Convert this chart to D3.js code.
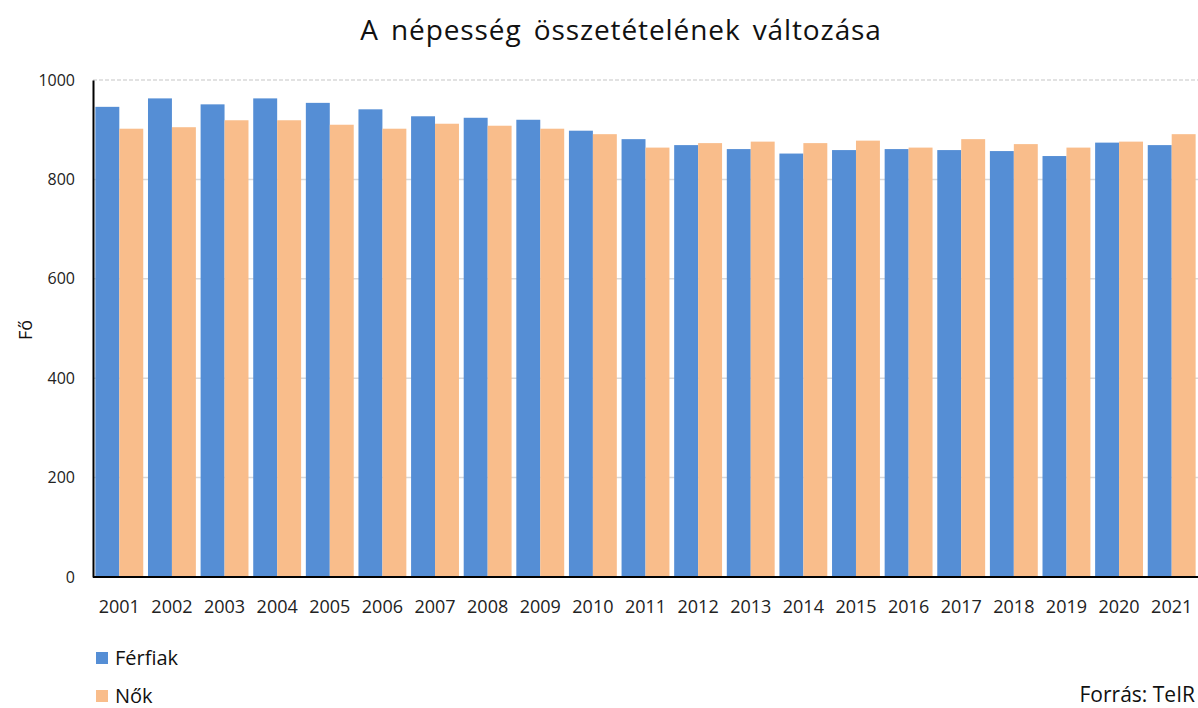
<!DOCTYPE html>
<html><head><meta charset="utf-8">
<script src="https://cdn.jsdelivr.net/npm/d3@7"></script>
<style>body{margin:0;background:#fff;} text{font-family:"Open Sans",sans-serif;}</style>
</head><body>
<svg id="c" width="1198" height="708"></svg>
<script>
const years = ["2001","2002","2003","2004","2005","2006","2007","2008","2009","2010","2011","2012","2013","2014","2015","2016","2017","2018","2019","2020","2021"];
const ferfiak = [946,963,951,963,954,941,927,924,920,898,881,869,861,852,859,861,859,857,847,874,869];
const nok = [902,905,919,919,910,902,912,908,902,891,864,873,876,873,878,864,881,871,864,876,891];
const yTicks = [0,200,400,600,800,1000];
const seriesNames = ["Férfiak","Nők"];
const colors = ["#558ed5","#f9bd8b"];

const svg = d3.select("#c");
const m = {left:93, right:0, top:80, bottom:130};
const W = 1198, H = 708;
const x = d3.scaleBand().domain(years).range([m.left, W - m.right]).paddingInner(0.09).paddingOuter(0.045);
const y = d3.scaleLinear().domain([0,1000]).range([577, 80]);
const xs = d3.scaleBand().domain([0,1]).range([0, x.bandwidth()]);

// gridlines
svg.append("g").selectAll("line").data(yTicks.filter(d=>d>0)).join("line")
  .attr("x1", m.left).attr("x2", W).attr("y1", d=>y(d)).attr("y2", d=>y(d))
  .attr("stroke", "#d9d9d9").attr("stroke-width", 1.5)
  .attr("stroke-dasharray", d => d===1000 ? "4,2" : null);

const data = years.map((yr,i)=>({yr, v:[ferfiak[i], nok[i]]}));
const g = svg.append("g").selectAll("g").data(data).join("g")
  .attr("transform", d=>`translate(${x(d.yr)},0)`);
g.selectAll("rect").data(d=>d.v.map((v,k)=>({v,k}))).join("rect")
  .attr("x", d=>xs(d.k)).attr("width", xs.bandwidth())
  .attr("y", d=>y(d.v)).attr("height", d=>y(0)-y(d.v))
  .attr("fill", d=>colors[d.k]);

// axes
const yAxis = d3.axisLeft(y).tickValues(yTicks).tickSize(0).tickPadding(18).tickFormat(d3.format("d"));
const ya = svg.append("g").attr("transform", `translate(${m.left},0)`).call(yAxis);
ya.select(".domain").attr("stroke","#000").attr("stroke-width",2);
ya.selectAll("text").attr("font-size",16).attr("fill","#222").style("font-family","Open Sans");

const xAxis = d3.axisBottom(x).tickSize(0).tickPadding(23);
const xa = svg.append("g").attr("transform", `translate(0,${y(0)})`).call(xAxis);
xa.select(".domain").attr("stroke","#000").attr("stroke-width",2).attr("d", `M${m.left},0H${W}`);
xa.selectAll("text").attr("font-size",18).attr("fill","#222").style("font-family","Open Sans");

// title
svg.append("text").attr("x", 621).attr("y", 40).attr("text-anchor","middle")
  .attr("font-size", 28).attr("letter-spacing", 0.9).attr("word-spacing", 4).attr("fill","#111")
  .text("A népesség összetételének változása");

// y axis title
svg.append("text").attr("transform","translate(32,330) rotate(-90)").attr("text-anchor","middle")
  .attr("font-size",18).attr("fill","#111").text("Fő");

// legend
const lg = svg.append("g").selectAll("g").data(seriesNames).join("g")
  .attr("transform",(d,i)=>`translate(96,${658 + i*38})`);
lg.append("rect").attr("x",0).attr("y",-6).attr("width",12).attr("height",12).attr("fill",(d,i)=>colors[i]);
lg.append("text").attr("x",19).attr("y",7).attr("font-size",20).attr("fill","#111").text(d=>d);

svg.append("text").attr("x",1195).attr("y",702).attr("text-anchor","end")
  .attr("font-size",21).attr("fill","#111").text("Forrás: TeIR");
</script>
</body></html>
